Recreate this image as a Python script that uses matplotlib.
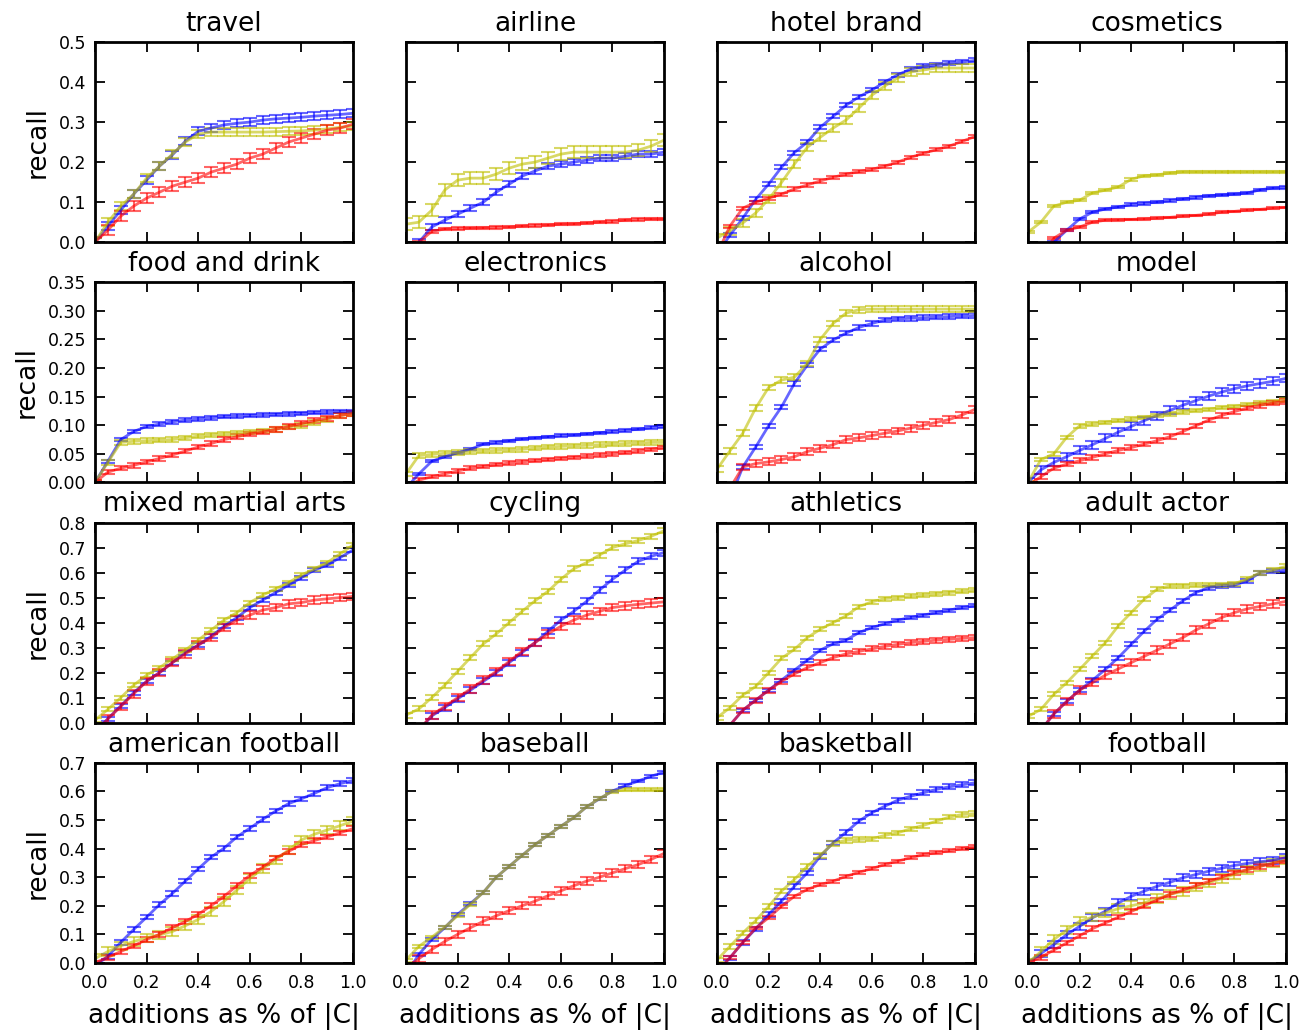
import numpy as np
import matplotlib
matplotlib.use("Agg")
import matplotlib.pyplot as plt

# fraction of |C| added
x_frac = [0.0, 0.05, 0.1, 0.15, 0.2, 0.25, 0.3, 0.35, 0.4, 0.45, 0.5,
          0.55, 0.6, 0.65, 0.7, 0.75, 0.8, 0.85, 0.9, 0.95, 1.0]

titles = ["travel", "airline", "hotel brand", "cosmetics",
          "food and drink", "electronics", "alcohol", "model",
          "mixed martial arts", "cycling", "athletics", "adult actor",
          "american football", "baseball", "basketball", "football"]

row_ylim = [0.5, 0.35, 0.8, 0.7]
row_yticks = [[0.0, 0.1, 0.2, 0.3, 0.4, 0.5],
              [0.0, 0.05, 0.10, 0.15, 0.20, 0.25, 0.30, 0.35],
              [0.0, 0.1, 0.2, 0.3, 0.4, 0.5, 0.6, 0.7, 0.8],
              [0.0, 0.1, 0.2, 0.3, 0.4, 0.5, 0.6, 0.7]]
row_fmt = ["%.1f", "%.2f", "%.1f", "%.1f"]

# recall curves: _b blue, _y yellow, _r red
travel_b = [0.0, 0.04, 0.08, 0.12, 0.155, 0.19, 0.218, 0.252, 0.277, 0.285, 0.293, 0.297, 0.30, 0.305, 0.308, 0.31, 0.312, 0.315, 0.317, 0.319, 0.322]
travel_y = [0.0, 0.05, 0.09, 0.12, 0.16, 0.19, 0.22, 0.25, 0.27, 0.275, 0.275, 0.275, 0.275, 0.275, 0.276, 0.277, 0.278, 0.28, 0.283, 0.287, 0.29]
travel_r = [0.0, 0.03, 0.065, 0.09, 0.11, 0.125, 0.14, 0.15, 0.16, 0.175, 0.185, 0.195, 0.21, 0.22, 0.235, 0.25, 0.26, 0.27, 0.28, 0.285, 0.295]

airline_b = [-0.05, 0.0, 0.038, 0.055, 0.07, 0.085, 0.1, 0.125, 0.145, 0.165, 0.178, 0.19, 0.195, 0.2, 0.205, 0.21, 0.21, 0.215, 0.22, 0.22, 0.225]
airline_y = [0.045, 0.05, 0.08, 0.13, 0.155, 0.16, 0.16, 0.17, 0.185, 0.195, 0.2, 0.21, 0.22, 0.225, 0.225, 0.225, 0.225, 0.225, 0.23, 0.24, 0.255]
airline_r = [-0.05, 0.0, 0.027, 0.033, 0.034, 0.035, 0.036, 0.037, 0.038, 0.04, 0.042, 0.043, 0.045, 0.046, 0.048, 0.05, 0.052, 0.055, 0.057, 0.058, 0.058]

hotel_b = [-0.03, 0.017, 0.06, 0.107, 0.145, 0.187, 0.224, 0.25, 0.287, 0.314, 0.342, 0.363, 0.38, 0.40, 0.418, 0.432, 0.439, 0.443, 0.447, 0.45, 0.454]
hotel_y = [0.01, 0.029, 0.048, 0.073, 0.107, 0.149, 0.195, 0.237, 0.262, 0.285, 0.305, 0.335, 0.367, 0.39, 0.41, 0.425, 0.43, 0.435, 0.435, 0.435, 0.435]
hotel_r = [-0.03, 0.04, 0.085, 0.1, 0.11, 0.12, 0.133, 0.143, 0.153, 0.162, 0.17, 0.176, 0.182, 0.19, 0.2, 0.212, 0.222, 0.231, 0.24, 0.252, 0.264]

cosm_b = [-0.1, -0.05, 0.0, 0.03, 0.058, 0.075, 0.083, 0.088, 0.094, 0.097, 0.1, 0.104, 0.108, 0.112, 0.116, 0.118, 0.12, 0.123, 0.131, 0.135, 0.137]
cosm_y = [0.025, 0.05, 0.09, 0.1, 0.105, 0.123, 0.13, 0.138, 0.157, 0.166, 0.168, 0.173, 0.176, 0.176, 0.176, 0.176, 0.176, 0.176, 0.176, 0.176, 0.176]
cosm_r = [-0.1, -0.04, 0.01, 0.03, 0.038, 0.05, 0.055, 0.056, 0.057, 0.058, 0.06, 0.062, 0.065, 0.067, 0.07, 0.075, 0.077, 0.08, 0.082, 0.085, 0.087]

food_b = [0.0, 0.037, 0.075, 0.089, 0.098, 0.102, 0.106, 0.109, 0.111, 0.113, 0.115, 0.116, 0.117, 0.118, 0.119, 0.12, 0.121, 0.122, 0.123, 0.124, 0.124]
food_y = [0.0, 0.035, 0.07, 0.072, 0.073, 0.074, 0.075, 0.078, 0.081, 0.083, 0.085, 0.086, 0.088, 0.09, 0.093, 0.097, 0.1, 0.105, 0.11, 0.117, 0.12]
food_r = [0.0, 0.018, 0.025, 0.03, 0.036, 0.042, 0.048, 0.055, 0.062, 0.068, 0.075, 0.08, 0.085, 0.088, 0.093, 0.098, 0.103, 0.108, 0.112, 0.117, 0.121]

elec_b = [-0.01, 0.015, 0.037, 0.045, 0.052, 0.058, 0.067, 0.07, 0.073, 0.076, 0.078, 0.08, 0.082, 0.083, 0.085, 0.087, 0.089, 0.091, 0.093, 0.096, 0.098]
elec_y = [0.015, 0.047, 0.049, 0.051, 0.052, 0.054, 0.055, 0.056, 0.057, 0.058, 0.06, 0.062, 0.063, 0.064, 0.065, 0.066, 0.067, 0.068, 0.069, 0.07, 0.07]
elec_r = [-0.01, 0.004, 0.01, 0.015, 0.02, 0.025, 0.028, 0.031, 0.034, 0.036, 0.038, 0.04, 0.042, 0.044, 0.046, 0.048, 0.05, 0.052, 0.055, 0.058, 0.061]

alc_b = [-0.09, -0.03, 0.027, 0.062, 0.099, 0.132, 0.173, 0.205, 0.233, 0.249, 0.261, 0.271, 0.278, 0.284, 0.286, 0.287, 0.288, 0.289, 0.29, 0.291, 0.292]
alc_y = [0.023, 0.055, 0.086, 0.13, 0.166, 0.179, 0.184, 0.208, 0.25, 0.278, 0.296, 0.302, 0.303, 0.303, 0.303, 0.303, 0.303, 0.303, 0.303, 0.303, 0.303]
alc_r = [-0.05, -0.01, 0.027, 0.033, 0.036, 0.04, 0.045, 0.054, 0.06, 0.066, 0.075, 0.078, 0.082, 0.086, 0.09, 0.095, 0.1, 0.105, 0.11, 0.118, 0.128]

model_b = [0.0, 0.022, 0.035, 0.045, 0.056, 0.066, 0.077, 0.088, 0.098, 0.108, 0.117, 0.126, 0.135, 0.143, 0.151, 0.158, 0.164, 0.169, 0.173, 0.177, 0.182]
model_y = [0.0, 0.04, 0.05, 0.079, 0.099, 0.102, 0.105, 0.108, 0.111, 0.114, 0.117, 0.12, 0.123, 0.126, 0.128, 0.131, 0.133, 0.136, 0.139, 0.141, 0.144]
model_r = [-0.005, 0.01, 0.025, 0.032, 0.038, 0.044, 0.05, 0.056, 0.061, 0.067, 0.073, 0.08, 0.089, 0.099, 0.109, 0.117, 0.124, 0.13, 0.135, 0.139, 0.142]

mma_b = [-0.04, 0.016, 0.067, 0.12, 0.165, 0.2, 0.24, 0.28, 0.31, 0.345, 0.385, 0.42, 0.46, 0.49, 0.52, 0.55, 0.58, 0.61, 0.63, 0.66, 0.69]
mma_y = [0.01, 0.053, 0.1, 0.15, 0.19, 0.22, 0.255, 0.29, 0.33, 0.37, 0.41, 0.44, 0.48, 0.51, 0.535, 0.56, 0.59, 0.615, 0.64, 0.675, 0.71]
mma_r = [-0.04, 0.015, 0.065, 0.115, 0.165, 0.2, 0.24, 0.275, 0.31, 0.34, 0.38, 0.41, 0.43, 0.45, 0.46, 0.475, 0.48, 0.49, 0.495, 0.5, 0.505]

cyc_b = [-0.1, -0.03, 0.027, 0.06, 0.095, 0.13, 0.165, 0.2, 0.24, 0.28, 0.32, 0.365, 0.41, 0.445, 0.485, 0.53, 0.573, 0.61, 0.645, 0.665, 0.68]
cyc_y = [0.03, 0.055, 0.1, 0.15, 0.205, 0.26, 0.315, 0.355, 0.4, 0.445, 0.487, 0.525, 0.573, 0.615, 0.64, 0.67, 0.7, 0.715, 0.728, 0.745, 0.767]
cyc_r = [-0.1, -0.03, 0.03, 0.065, 0.1, 0.135, 0.17, 0.205, 0.245, 0.285, 0.32, 0.355, 0.385, 0.41, 0.43, 0.445, 0.46, 0.467, 0.473, 0.478, 0.483]

ath_b = [-0.07, -0.01, 0.05, 0.09, 0.13, 0.17, 0.21, 0.25, 0.29, 0.315, 0.33, 0.36, 0.38, 0.395, 0.41, 0.42, 0.43, 0.44, 0.45, 0.46, 0.467]
ath_y = [0.02, 0.06, 0.11, 0.145, 0.2, 0.257, 0.293, 0.34, 0.373, 0.4, 0.427, 0.464, 0.483, 0.496, 0.5, 0.505, 0.51, 0.515, 0.52, 0.525, 0.53]
ath_r = [-0.07, -0.01, 0.05, 0.09, 0.13, 0.165, 0.195, 0.22, 0.24, 0.26, 0.275, 0.285, 0.295, 0.305, 0.313, 0.32, 0.325, 0.33, 0.333, 0.337, 0.34]

adult_b = [-0.1, -0.03, 0.035, 0.085, 0.13, 0.17, 0.213, 0.26, 0.313, 0.365, 0.413, 0.45, 0.487, 0.52, 0.54, 0.547, 0.55, 0.567, 0.6, 0.605, 0.61]
adult_y = [0.025, 0.053, 0.113, 0.16, 0.213, 0.267, 0.32, 0.387, 0.44, 0.493, 0.533, 0.547, 0.548, 0.549, 0.55, 0.552, 0.555, 0.575, 0.6, 0.61, 0.625]
adult_r = [-0.1, -0.03, 0.035, 0.085, 0.13, 0.16, 0.19, 0.215, 0.24, 0.265, 0.29, 0.315, 0.34, 0.37, 0.395, 0.42, 0.44, 0.455, 0.465, 0.475, 0.485]

amf_b = [-0.01, 0.023, 0.072, 0.117, 0.16, 0.204, 0.243, 0.286, 0.329, 0.37, 0.401, 0.441, 0.471, 0.502, 0.531, 0.557, 0.574, 0.593, 0.613, 0.627, 0.638]
amf_y = [0.015, 0.04, 0.06, 0.075, 0.088, 0.098, 0.11, 0.13, 0.152, 0.18, 0.215, 0.255, 0.295, 0.33, 0.36, 0.395, 0.43, 0.45, 0.465, 0.48, 0.496]
amf_r = [0.0, 0.02, 0.04, 0.06, 0.082, 0.1, 0.123, 0.145, 0.17, 0.2, 0.233, 0.27, 0.306, 0.335, 0.367, 0.39, 0.414, 0.428, 0.441, 0.455, 0.47]

base_b = [-0.04, 0.03, 0.082, 0.123, 0.17, 0.208, 0.247, 0.3, 0.338, 0.376, 0.414, 0.446, 0.478, 0.508, 0.546, 0.574, 0.601, 0.62, 0.636, 0.653, 0.667]
base_y = [0.01, 0.058, 0.09, 0.125, 0.165, 0.205, 0.247, 0.3, 0.338, 0.376, 0.414, 0.446, 0.478, 0.508, 0.546, 0.575, 0.6, 0.605, 0.605, 0.605, 0.605]
base_r = [-0.02, 0.015, 0.047, 0.075, 0.1, 0.123, 0.146, 0.165, 0.183, 0.2, 0.216, 0.235, 0.252, 0.27, 0.286, 0.3, 0.315, 0.33, 0.344, 0.362, 0.383]

bask_b = [-0.03, 0.018, 0.072, 0.119, 0.169, 0.216, 0.268, 0.315, 0.373, 0.42, 0.457, 0.496, 0.525, 0.548, 0.569, 0.583, 0.595, 0.607, 0.616, 0.623, 0.63]
bask_y = [0.01, 0.058, 0.105, 0.148, 0.198, 0.251, 0.292, 0.338, 0.376, 0.418, 0.429, 0.432, 0.434, 0.446, 0.455, 0.469, 0.481, 0.496, 0.51, 0.519, 0.522]
bask_r = [-0.03, 0.018, 0.072, 0.122, 0.158, 0.198, 0.233, 0.257, 0.274, 0.286, 0.303, 0.317, 0.33, 0.344, 0.356, 0.368, 0.379, 0.385, 0.392, 0.4, 0.406]

foot_b = [0.0, 0.033, 0.064, 0.099, 0.128, 0.158, 0.181, 0.21, 0.233, 0.251, 0.268, 0.282, 0.298, 0.309, 0.321, 0.331, 0.341, 0.348, 0.354, 0.359, 0.368]
foot_y = [0.0, 0.04, 0.082, 0.115, 0.146, 0.16, 0.175, 0.19, 0.2, 0.21, 0.225, 0.24, 0.25, 0.265, 0.28, 0.295, 0.31, 0.325, 0.338, 0.35, 0.36]
foot_r = [0.0, 0.02, 0.045, 0.07, 0.095, 0.12, 0.14, 0.16, 0.18, 0.2, 0.22, 0.24, 0.255, 0.27, 0.285, 0.3, 0.315, 0.327, 0.338, 0.348, 0.358]

# error bar half-widths (blue, yellow, red) per panel
errs = [(0.01, 0.01, 0.012), (0.008, 0.015, 0.003), (0.005, 0.01, 0.004), (0.003, 0.003, 0.002),
        (0.003, 0.004, 0.004), (0.002, 0.004, 0.003), (0.004, 0.005, 0.006), (0.007, 0.003, 0.004),
        (0.008, 0.008, 0.015), (0.012, 0.01, 0.015), (0.006, 0.008, 0.01), (0.008, 0.008, 0.015),
        (0.008, 0.015, 0.008), (0.005, 0.005, 0.013), (0.008, 0.008, 0.005), (0.012, 0.015, 0.008)]

series = [(travel_b, travel_y, travel_r), (airline_b, airline_y, airline_r),
          (hotel_b, hotel_y, hotel_r), (cosm_b, cosm_y, cosm_r),
          (food_b, food_y, food_r), (elec_b, elec_y, elec_r),
          (alc_b, alc_y, alc_r), (model_b, model_y, model_r),
          (mma_b, mma_y, mma_r), (cyc_b, cyc_y, cyc_r),
          (ath_b, ath_y, ath_r), (adult_b, adult_y, adult_r),
          (amf_b, amf_y, amf_r), (base_b, base_y, base_r),
          (bask_b, bask_y, bask_r), (foot_b, foot_y, foot_r)]

colors = ["#0000ff", "#bfbf00", "#ff0000"]

fig, axes = plt.subplots(4, 4, figsize=(13.15, 10.32), dpi=100)
fig.subplots_adjust(left=0.0722, right=0.978, bottom=0.0669, top=0.9593,
                    wspace=0.205, hspace=0.2)

for i, ax in enumerate(axes.flat):
    row, col = divmod(i, 4)
    for vals, e, c in zip(series[i], errs[i], colors):
        ax.errorbar(x_frac, vals, yerr=e, color=c, alpha=0.6, lw=2,
                    elinewidth=1.5, capsize=5, capthick=1.5)
    ax.set_xlim(0, 1)
    ax.set_ylim(0, row_ylim[row])
    ax.set_xticks([0.0, 0.2, 0.4, 0.6, 0.8, 1.0])
    ax.set_yticks(row_yticks[row])
    ax.set_title(titles[i], fontsize=19, pad=8)
    ax.tick_params(direction="in", top=True, right=True, length=7,
                   width=1.3, labelsize=12.5)
    ax.tick_params(axis="x", pad=8)
    ax.tick_params(axis="y", pad=6)
    for sp in ax.spines.values():
        sp.set_linewidth(2)
    if col == 0:
        ax.set_yticklabels([row_fmt[row] % t for t in row_yticks[row]])
        ax.set_ylabel("recall", fontsize=19, labelpad=6)
    else:
        ax.set_yticklabels([])
    if row == 3:
        ax.set_xticklabels(["%.1f" % t for t in [0.0, 0.2, 0.4, 0.6, 0.8, 1.0]])
        ax.set_xlabel("additions as % of |C|", fontsize=19, labelpad=8)
    else:
        ax.set_xticklabels([])

plt.savefig("out.png", dpi=100)
